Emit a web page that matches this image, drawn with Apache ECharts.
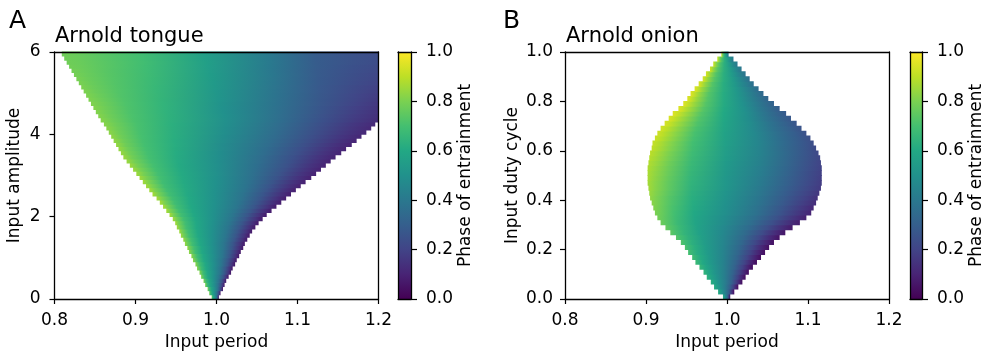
<!DOCTYPE html>
<html><head><meta charset="utf-8">
<script src="https://cdn.jsdelivr.net/npm/echarts@6/dist/echarts.min.js"></script>
<style>html,body{margin:0;padding:0;background:#fff}#c{width:986px;height:357px}</style>
</head><body><div id="c"></div>
<script>
// ---------- tick labels ----------
const periodTicks = [0.8, 0.9, 1.0, 1.1, 1.2];
const amplitudeTicks = [0, 2, 4, 6];
const dutyTicks = [0.0, 0.2, 0.4, 0.6, 0.8, 1.0];
const phaseTicks = [0.0, 0.2, 0.4, 0.6, 0.8, 1.0];

// ---------- Panel A: Arnold tongue (rows of input amplitude) ----------
const tongueAmp = [0.05,0.15,0.25,0.35,0.45,0.55,0.65,0.75,0.85,0.95,
  1.05,1.15,1.25,1.35,1.45,1.55,1.65,1.75,1.85,1.95,
  2.05,2.15,2.25,2.35,2.45,2.55,2.65,2.75,2.85,2.95,
  3.05,3.15,3.25,3.35,3.45,3.55,3.65,3.75,3.85,3.95,
  4.05,4.15,4.25,4.35,4.45,4.55,4.65,4.75,4.85,4.95,
  5.05,5.15,5.25,5.35,5.45,5.55,5.65,5.75,5.85,5.95];
const tongueLeft = [0.994,0.991,0.989,0.986,0.984,0.981,0.979,0.976,0.974,0.971,
  0.969,0.966,0.964,0.961,0.959,0.956,0.954,0.951,0.949,0.946,
  0.942,0.938,0.934,0.930,0.926,0.921,0.917,0.913,0.909,0.905,
  0.901,0.897,0.893,0.889,0.885,0.882,0.879,0.876,0.873,0.870,
  0.867,0.864,0.861,0.857,0.854,0.851,0.848,0.845,0.842,0.839,
  0.836,0.833,0.830,0.827,0.824,0.821,0.818,0.815,0.812,0.809];
const tongueRight = [1.003,1.005,1.008,1.010,1.012,1.015,1.018,1.020,1.023,1.025,
  1.028,1.030,1.033,1.035,1.038,1.041,1.044,1.048,1.052,1.057,
  1.062,1.068,1.074,1.080,1.086,1.092,1.098,1.104,1.110,1.117,
  1.123,1.129,1.135,1.141,1.147,1.154,1.160,1.167,1.173,1.179,
  1.185,1.191,1.196,1.2,1.2,1.2,1.2,1.2,1.2,1.2,
  1.2,1.2,1.2,1.2,1.2,1.2,1.2,1.2,1.2,1.2];
// phase read across a row, at fractions of the row's width (profilePos)
const profilePos = [0, 0.04, 0.12, 0.25, 0.45, 0.65, 0.8, 0.92, 1];
const tonguePhaseAmp = [0.25,0.75,1.25,1.75,2.25,2.75,3.25,3.75,4.25,4.75,5.25,5.75];
const tonguePhase = [
  [0.80,0.75,0.67,0.59,0.50,0.39,0.27,0.15,0.06],
  [0.82,0.77,0.68,0.60,0.50,0.39,0.27,0.15,0.06],
  [0.84,0.78,0.69,0.60,0.50,0.39,0.27,0.15,0.07],
  [0.86,0.79,0.69,0.60,0.50,0.39,0.27,0.15,0.07],
  [0.87,0.80,0.69,0.60,0.50,0.39,0.27,0.15,0.08],
  [0.86,0.80,0.69,0.61,0.50,0.38,0.26,0.15,0.09],
  [0.85,0.79,0.70,0.61,0.49,0.36,0.25,0.15,0.10],
  [0.84,0.78,0.70,0.62,0.48,0.35,0.24,0.15,0.10],
  [0.82,0.78,0.71,0.63,0.49,0.35,0.24,0.16,0.12],
  [0.81,0.78,0.72,0.65,0.51,0.37,0.27,0.20,0.16],
  [0.80,0.77,0.73,0.67,0.54,0.39,0.28,0.23,0.20],
  [0.78,0.77,0.74,0.69,0.56,0.41,0.29,0.25,0.23]
];

// ---------- Panel B: Arnold onion (rows of input duty cycle) ----------
const onionDuty = [0.01,0.03,0.05,0.07,0.09,0.11,0.13,0.15,0.17,0.19,
  0.21,0.23,0.25,0.27,0.29,0.31,0.33,0.35,0.37,0.39,
  0.41,0.43,0.45,0.47,0.49,0.51,0.53,0.55,0.57,0.59,
  0.61,0.63,0.65,0.67,0.69,0.71,0.73,0.75,0.77,0.79,
  0.81,0.83,0.85,0.87,0.89,0.91,0.93,0.95,0.97,0.99];
const onionLeft = [0.995,0.989,0.984,0.980,0.975,0.971,0.966,0.961,0.957,0.952,
  0.948,0.943,0.937,0.930,0.924,0.918,0.914,0.911,0.909,0.907,
  0.905,0.904,0.903,0.902,0.902,0.902,0.902,0.903,0.904,0.905,
  0.907,0.908,0.911,0.914,0.918,0.923,0.928,0.933,0.940,0.946,
  0.951,0.955,0.960,0.965,0.970,0.974,0.979,0.983,0.988,0.993];
const onionRight = [1.004,1.009,1.014,1.019,1.023,1.027,1.032,1.037,1.042,1.047,
  1.052,1.058,1.065,1.072,1.081,1.090,1.098,1.104,1.107,1.110,
  1.112,1.114,1.116,1.117,1.117,1.117,1.117,1.116,1.115,1.113,
  1.110,1.107,1.103,1.098,1.092,1.086,1.079,1.073,1.065,1.058,
  1.051,1.045,1.039,1.033,1.028,1.023,1.018,1.013,1.008,1.002];
const onionPhaseDuty = [0.05,0.15,0.25,0.35,0.45,0.55,0.65,0.75,0.85,0.95];
const onionPhase = [
  [0.62,0.60,0.56,0.50,0.42,0.31,0.19,0.09,0.03],
  [0.68,0.65,0.60,0.53,0.44,0.32,0.20,0.09,0.03],
  [0.74,0.70,0.64,0.56,0.46,0.34,0.22,0.11,0.05],
  [0.80,0.77,0.70,0.60,0.49,0.37,0.26,0.16,0.10],
  [0.86,0.82,0.75,0.64,0.52,0.40,0.30,0.22,0.17],
  [0.88,0.85,0.78,0.67,0.54,0.43,0.33,0.25,0.20],
  [0.92,0.89,0.82,0.70,0.57,0.46,0.36,0.29,0.24],
  [0.95,0.92,0.85,0.73,0.60,0.49,0.39,0.32,0.28],
  [0.95,0.92,0.84,0.73,0.62,0.53,0.45,0.39,0.35],
  [0.92,0.89,0.82,0.73,0.63,0.55,0.48,0.43,0.40]
];

// ---------- colour map (viridis) ----------
const VIRIDIS = ['#440154','#482475','#414487','#355f8d','#2a788e','#21918c',
  '#22a884','#44bf70','#7ad151','#bddf26','#fde725'];
function hexRgb(h){return [parseInt(h.slice(1,3),16),parseInt(h.slice(3,5),16),parseInt(h.slice(5,7),16)];}
const VIR_RGB = VIRIDIS.map(hexRgb);
function viridis(v){
  v = Math.max(0, Math.min(1, v));
  const s = v * (VIR_RGB.length - 1);
  const i = Math.min(VIR_RGB.length - 2, Math.floor(s));
  const t = s - i;
  const a = VIR_RGB[i], b = VIR_RGB[i+1];
  return 'rgb(' + [0,1,2].map(k => Math.round(a[k] + (b[k]-a[k])*t)).join(',') + ')';
}

// colour stops for a band: shade between the two read rows around it
function bandStops(y, centres, table){
  let row;
  if (y <= centres[0]) row = table[0];
  else if (y >= centres[centres.length-1]) row = table[table.length-1];
  else {
    let i = 0;
    while (centres[i+1] < y) i++;
    const t = (y - centres[i]) / (centres[i+1] - centres[i]);
    row = table[i].map((v, j) => v + (table[i+1][j] - v) * t);
  }
  return profilePos.map((u, j) => ({offset: u, color: viridis(row[j])}));
}

const tongueData = tongueAmp.map((a, i) => [a, tongueLeft[i], tongueRight[i]]);
const onionData = onionDuty.map((d, i) => [d, onionLeft[i], onionRight[i]]);

function bandRenderer(half, centres, table){
  return function(params, api){
    const y = api.value(0), l = api.value(1), r = api.value(2);
    const tl = api.coord([l, y + half]);
    const br = api.coord([r, y - half]);
    return {
      type: 'rect',
      shape: {x: tl[0], y: tl[1] - 0.4, width: br[0] - tl[0], height: br[1] - tl[1] + 0.8},
      style: {fill: new echarts.graphic.LinearGradient(0, 0, 1, 0, bandStops(y, centres, table))}
    };
  };
}
function colorbarRenderer(params, api){
  const tl = api.coord([0, 1]);
  const br = api.coord([1, 0]);
  const stops = VIRIDIS.map((c, i) => ({offset: i / (VIRIDIS.length - 1), color: c}));
  return {
    type: 'rect',
    shape: {x: tl[0], y: tl[1], width: br[0] - tl[0], height: br[1] - tl[1]},
    style: {fill: new echarts.graphic.LinearGradient(0, 1, 0, 0, stops)}
  };
}

const FONT = 'DejaVu Sans';
const step = t => Math.round((t[1] - t[0]) * 1e6) / 1e6;
const lineStyle = {color: '#000', width: 1.3};
function mainAxis(grid, ticks, pos, extra){
  return Object.assign({
    type: 'value', gridIndex: grid, position: pos, z: 10,
    min: ticks[0], max: ticks[ticks.length - 1], interval: step(ticks),
    axisLine: {show: true, onZero: false, lineStyle},
    axisTick: {show: true, length: 5, lineStyle: {color: '#000', width: 1.2}},
    splitLine: {show: false},
    axisLabel: {color: '#000', fontSize: 17, fontFamily: FONT}
  }, extra || {});
}
function lineAxis(grid, pos, min, max){
  return {
    type: 'value', gridIndex: grid, position: pos, z: 10, min, max,
    axisLine: {show: true, onZero: false, lineStyle},
    axisTick: {show: false}, axisLabel: {show: false}, splitLine: {show: false}
  };
}
const f1 = v => Number(v).toFixed(1);
const f0 = v => Number(v).toFixed(0);
const nameStyle = {color: '#000', fontSize: 17, fontFamily: FONT};
const xLabel = {color: '#000', fontSize: 17, fontFamily: FONT, margin: 13, formatter: f1};

const option = {
  animation: false,
  backgroundColor: '#fff',
  textStyle: {fontFamily: FONT},
  grid: [
    {left: 54.5, top: 52, width: 324, height: 247},
    {left: 398, top: 52, width: 13, height: 247},
    {left: 565, top: 52, width: 324, height: 247},
    {left: 910, top: 52, width: 13, height: 247}
  ],
  xAxis: [
    mainAxis(0, periodTicks, 'bottom', {name: 'Input period', nameLocation: 'middle', nameGap: 35, nameTextStyle: nameStyle, axisLabel: xLabel}),
    lineAxis(0, 'top', periodTicks[0], periodTicks[periodTicks.length-1]),
    lineAxis(1, 'bottom', 0, 1),
    lineAxis(1, 'top', 0, 1),
    mainAxis(2, periodTicks, 'bottom', {name: 'Input period', nameLocation: 'middle', nameGap: 35, nameTextStyle: nameStyle, axisLabel: xLabel}),
    lineAxis(2, 'top', periodTicks[0], periodTicks[periodTicks.length-1]),
    lineAxis(3, 'bottom', 0, 1),
    lineAxis(3, 'top', 0, 1)
  ],
  yAxis: [
    mainAxis(0, amplitudeTicks, 'left', {name: 'Input amplitude', nameLocation: 'middle', nameRotate: 90, nameGap: 31, nameTextStyle: nameStyle,
      axisLabel: {color: '#000', fontSize: 17, fontFamily: FONT, margin: 14, formatter: f0}}),
    lineAxis(0, 'right', amplitudeTicks[0], amplitudeTicks[amplitudeTicks.length-1]),
    mainAxis(1, phaseTicks, 'right', {name: 'Phase of entrainment', nameLocation: 'middle', nameRotate: 90, nameGap: 46, nameTextStyle: nameStyle,
      axisTick: {show: true, length: 6, lineStyle: {color: '#000', width: 1.2}},
      axisLabel: {color: '#000', fontSize: 17, fontFamily: FONT, margin: 15, formatter: f1}}),
    lineAxis(1, 'left', 0, 1),
    mainAxis(2, dutyTicks, 'left', {name: 'Input duty cycle', nameLocation: 'middle', nameRotate: 90, nameGap: 44, nameTextStyle: nameStyle,
      axisLabel: {color: '#000', fontSize: 17, fontFamily: FONT, margin: 12, formatter: f1}}),
    lineAxis(2, 'right', dutyTicks[0], dutyTicks[dutyTicks.length-1]),
    mainAxis(3, phaseTicks, 'right', {name: 'Phase of entrainment', nameLocation: 'middle', nameRotate: 90, nameGap: 46, nameTextStyle: nameStyle,
      axisTick: {show: true, length: 6, lineStyle: {color: '#000', width: 1.2}},
      axisLabel: {color: '#000', fontSize: 17, fontFamily: FONT, margin: 15, formatter: f1}}),
    lineAxis(3, 'left', 0, 1)
  ],
  series: [
    {type: 'custom', name: 'Arnold tongue', xAxisIndex: 0, yAxisIndex: 0, data: tongueData,
      renderItem: bandRenderer(0.05, tonguePhaseAmp, tonguePhase), encode: {x: [1, 2], y: 0}, silent: true},
    {type: 'custom', name: 'colorbar A', xAxisIndex: 2, yAxisIndex: 2, data: [[0, 0]],
      renderItem: colorbarRenderer, silent: true},
    {type: 'custom', name: 'Arnold onion', xAxisIndex: 4, yAxisIndex: 4, data: onionData,
      renderItem: bandRenderer(0.01, onionPhaseDuty, onionPhase), encode: {x: [1, 2], y: 0}, silent: true},
    {type: 'custom', name: 'colorbar B', xAxisIndex: 6, yAxisIndex: 6, data: [[0, 0]],
      renderItem: colorbarRenderer, silent: true}
  ],
  graphic: [
    {type: 'text', x: 9, y: 21, style: {text: 'A', fontSize: 25, fontFamily: FONT, fill: '#000', verticalAlign: 'middle'}},
    {type: 'text', x: 55, y: 37, style: {text: 'Arnold tongue', fontSize: 21, fontFamily: FONT, fill: '#000', verticalAlign: 'middle'}},
    {type: 'text', x: 503, y: 21, style: {text: 'B', fontSize: 25, fontFamily: FONT, fill: '#000', verticalAlign: 'middle'}},
    {type: 'text', x: 566, y: 37, style: {text: 'Arnold onion', fontSize: 21, fontFamily: FONT, fill: '#000', verticalAlign: 'middle'}}
  ]
};
const chart = echarts.init(document.getElementById('c'), null, {renderer: 'canvas'});
chart.setOption(option);
</script></body></html>
